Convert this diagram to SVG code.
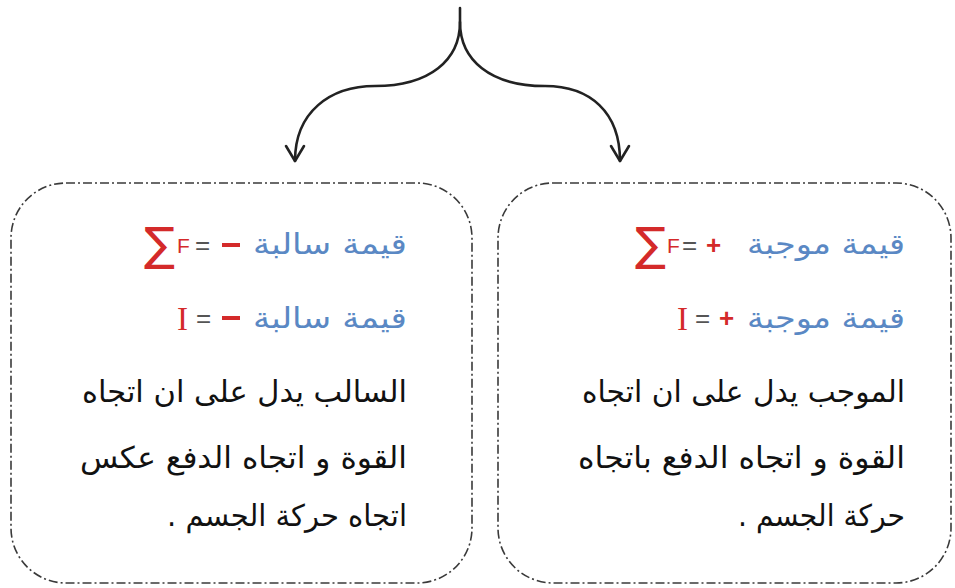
<svg xmlns="http://www.w3.org/2000/svg" width="955" height="588" viewBox="0 0 955 588">
<defs>
<style>
.box{fill:none;stroke:#3a3a3a;stroke-width:1.6;stroke-dasharray:9 3 2 3}
.conn{fill:none;stroke:#222;stroke-width:2.6;stroke-linecap:round}
.ar{font-family:"DejaVu Sans",sans-serif;font-size:30px;fill:#111}
.blue{font-family:"DejaVu Sans",sans-serif;font-size:29px;fill:#5a88c4}
.red{fill:#d42a2a}
.sig{font-family:"DejaVu Sans",sans-serif;font-size:46px;fill:#d42a2a}
.f{font-family:"Liberation Sans",sans-serif;font-size:21px;fill:#d42a2a}
.eq{font-family:"Liberation Sans",sans-serif;font-size:26px;fill:#555}
.op{font-family:"Liberation Sans",sans-serif;font-size:26px;font-weight:bold;fill:#d42a2a}
.i{font-family:"Liberation Serif",serif;font-size:33px;fill:#d42a2a}
</style>
</defs>
<g id="connectors">
<path class="conn" d="M460,8 L460,22 C460,60 430,86 375,86 C330,86 295,112 295,161"/>
<path class="conn" d="M460,22 C460,60 490,86 545,86 C590,86 620,112 620,161"/>
<path d="M286,146 L295,161 L304,146" fill="none" stroke="#222" stroke-width="2.6" stroke-linecap="round" stroke-linejoin="round"/>
<path d="M611,146 L620,161 L629,146" fill="none" stroke="#222" stroke-width="2.6" stroke-linecap="round" stroke-linejoin="round"/>
</g>
<g id="left-box">
<rect class="box" x="11" y="183" width="461" height="400" rx="55" ry="55"/>
<text class="sig" x="144" y="260">∑</text>
<text class="f" x="177" y="253">F</text>
<text class="eq" x="195" y="254">=</text>
<rect class="red" x="222" y="243" width="18" height="4"/>
<text class="blue" x="407" y="254" direction="rtl" text-anchor="start" textLength="154" lengthAdjust="spacingAndGlyphs">قيمة سالبة</text>
<text class="i" x="177" y="330">I</text>
<text class="eq" x="196" y="327">=</text>
<rect class="red" x="222" y="316" width="18" height="4"/>
<text class="blue" x="407" y="328" direction="rtl" text-anchor="start" textLength="154" lengthAdjust="spacingAndGlyphs">قيمة سالبة</text>
<text class="ar" x="407" y="402" direction="rtl" text-anchor="start" textLength="325" lengthAdjust="spacingAndGlyphs">السالب يدل على ان اتجاه</text>
<text class="ar" x="407" y="468" direction="rtl" text-anchor="start" textLength="327" lengthAdjust="spacingAndGlyphs">القوة و اتجاه الدفع عكس</text>
<text class="ar" x="407" y="526" direction="rtl" text-anchor="start" textLength="240" lengthAdjust="spacingAndGlyphs">اتجاه حركة الجسم .</text>
</g>
<g id="right-box">
<rect class="box" x="498" y="183" width="453" height="400" rx="55" ry="55"/>
<text class="sig" x="635" y="260">∑</text>
<text class="f" x="667" y="253">F</text>
<text class="eq" x="682" y="254">=</text>
<text class="op" x="706" y="254">+</text>
<text class="blue" x="905" y="254" direction="rtl" text-anchor="start" textLength="158" lengthAdjust="spacingAndGlyphs">قيمة موجبة</text>
<text class="i" x="677" y="330">I</text>
<text class="eq" x="695" y="327">=</text>
<text class="op" x="719" y="327">+</text>
<text class="blue" x="905" y="328" direction="rtl" text-anchor="start" textLength="158" lengthAdjust="spacingAndGlyphs">قيمة موجبة</text>
<text class="ar" x="905" y="402" direction="rtl" text-anchor="start" textLength="323" lengthAdjust="spacingAndGlyphs">الموجب يدل على ان اتجاه</text>
<text class="ar" x="905" y="468" direction="rtl" text-anchor="start" textLength="327" lengthAdjust="spacingAndGlyphs">القوة و اتجاه الدفع باتجاه</text>
<text class="ar" x="905" y="526" direction="rtl" text-anchor="start" textLength="167" lengthAdjust="spacingAndGlyphs">حركة الجسم .</text>
</g>
</svg>
